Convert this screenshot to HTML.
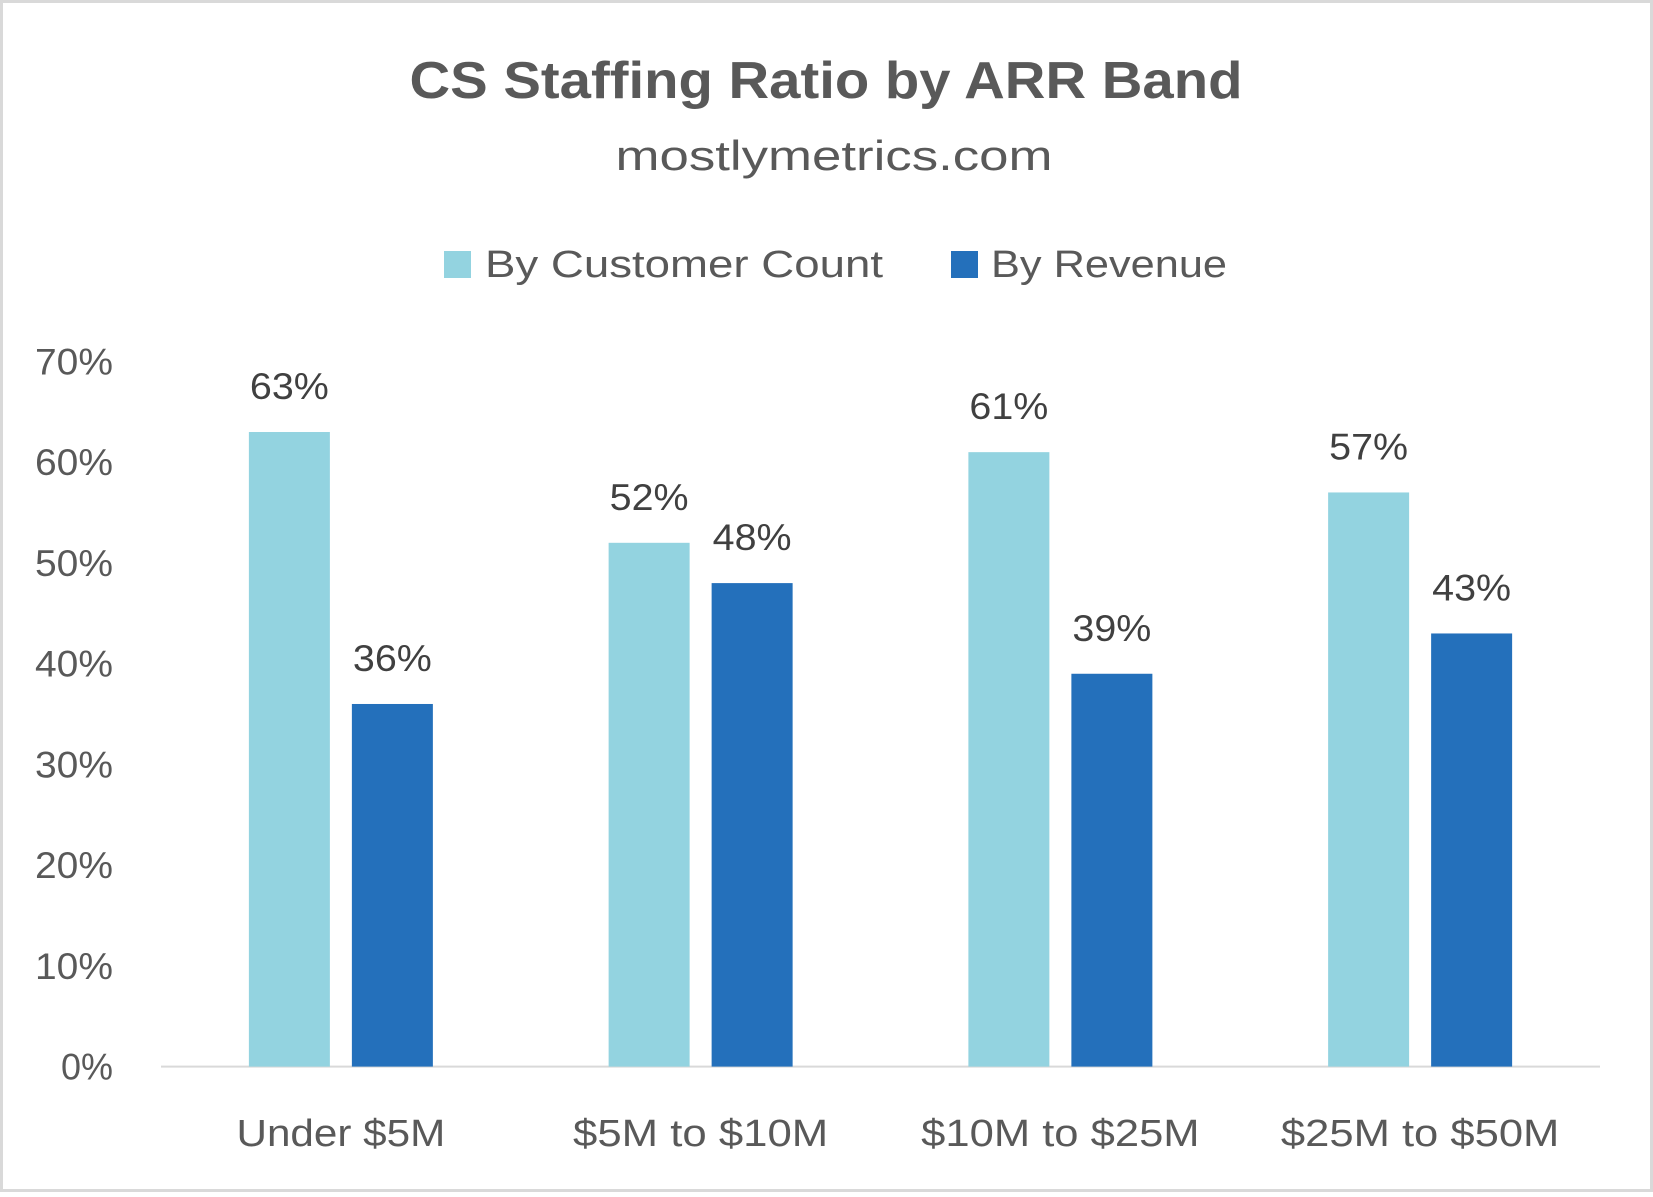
<!DOCTYPE html>
<html><head><meta charset="utf-8"><style>
html,body{margin:0;padding:0;background:#fff}
svg text{font-family:"Liberation Sans",sans-serif}
</style></head><body>
<svg width="1653" height="1192" viewBox="0 0 1653 1192" xmlns="http://www.w3.org/2000/svg">
<rect x="1.5" y="1.5" width="1650" height="1189" fill="#fff" stroke="#d9d9d9" stroke-width="3"/>
<text x="826" y="98" text-anchor="middle" font-size="52" font-weight="bold" fill="#595959" textLength="833" lengthAdjust="spacingAndGlyphs">CS Staffing Ratio by ARR Band</text>
<text x="834" y="170" text-anchor="middle" font-size="42" fill="#595959" textLength="437" lengthAdjust="spacingAndGlyphs">mostlymetrics.com</text>
<rect x="444" y="251" width="27" height="27" fill="#93d3e0"/>
<text x="485" y="277" font-size="38" fill="#595959" textLength="398" lengthAdjust="spacingAndGlyphs">By Customer Count</text>
<rect x="951" y="251" width="27" height="27" fill="#2470bb"/>
<text x="991" y="277" font-size="38" fill="#595959" textLength="236" lengthAdjust="spacingAndGlyphs">By Revenue</text>
<g id="plot"></g>
</svg>
<script>
const categories = ["Under $5M","$5M to $10M","$10M to $25M","$25M to $50M"];
const customerCount = [63,52,61,57];
const revenue = [36,48,39,43];
const yTicks = [0,10,20,30,40,50,60,70];
const ns="http://www.w3.org/2000/svg";
const g=document.getElementById('plot');
const x0=161,x1=1600,yBase=1066.6,yTop=361.5,yMax=70;
const y=v=>yBase-(yBase-yTop)*v/yMax;
const bw=(x1-x0)/categories.length;
const cx=i=>x0+bw*(i+0.5);
function mk(tag,attrs,txt){const e=document.createElementNS(ns,tag);for(const k in attrs)e.setAttribute(k,attrs[k]);if(txt!=null)e.textContent=txt;g.appendChild(e);return e;}
yTicks.forEach(t=>{
  const s=t+'%';
  const e=mk('text',{x:113,y:y(t)+13,'text-anchor':'end','font-size':'37',fill:'#595959',textLength:s.length*26,lengthAdjust:'spacingAndGlyphs'},s);
  
  
});
const ax=mk('line',{x1:x0,x2:x1,y1:yBase,y2:yBase,stroke:'#d9d9d9','stroke-width':2});


const barW=81,gap=11;
categories.forEach((c,i)=>{
  const series=[[customerCount[i],'#93d3e0',cx(i)-gap-barW,'customer-count'],[revenue[i],'#2470bb',cx(i)+gap,'revenue']];
  series.forEach(([v,col,bx,nm])=>{
    const r=mk('rect',{x:bx,y:y(v),width:barW,height:yBase-y(v),fill:col});
    
    
    const s=v+'%';
    const t=mk('text',{x:bx+barW/2,y:y(v)-33,'text-anchor':'middle','font-size':'37',fill:'#404040',textLength:s.length*26.3,lengthAdjust:'spacingAndGlyphs'},s);
    
    
  });
  const l=mk('text',{x:cx(i),y:1146,'text-anchor':'middle','font-size':'38',fill:'#595959',textLength:c.length*23.2,lengthAdjust:'spacingAndGlyphs'},c);
  
  
});
</script>
</body></html>
